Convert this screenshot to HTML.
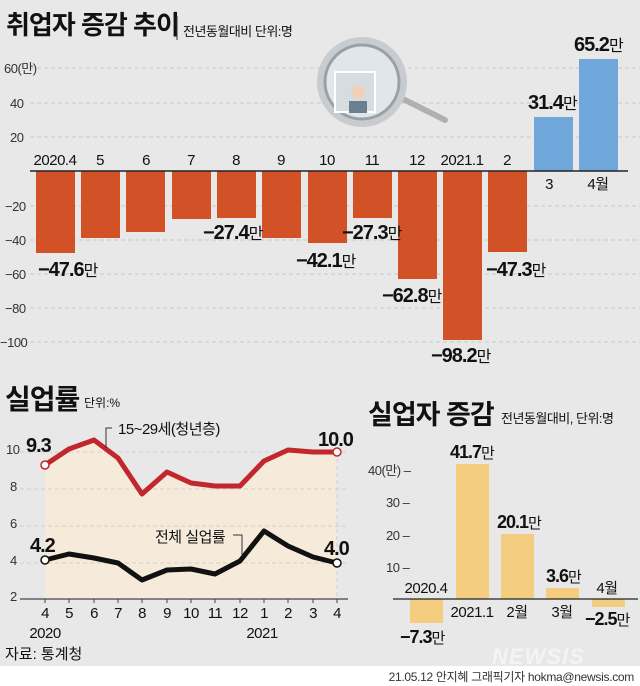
<!DOCTYPE html>
<html><head><meta charset="utf-8"><style>
html,body{margin:0;padding:0;background:#e8e8e8}
svg{display:block}
text{font-family:"Liberation Sans","Noto Sans CJK KR",sans-serif;fill:#111}
.b{font-weight:bold;letter-spacing:-1px}
.t{font-size:13px;fill:#333;letter-spacing:-0.5px}
</style></head><body>
<svg width="640" height="686" viewBox="0 0 640 686" xmlns="http://www.w3.org/2000/svg">
<rect width="640" height="686" fill="#e8e8e8"/>
<text x="6" y="34" font-size="26" font-weight="bold" letter-spacing="-1">취업자 증감 추이</text>
<line x1="177" y1="16" x2="177" y2="40" stroke="#333" stroke-width="1"/>
<text x="183" y="36" font-size="13" letter-spacing="-0.5">전년동월대비 단위:명</text>
<g stroke="#c8c8c8" stroke-dasharray="4,3" stroke-width="1">
<line x1="30" y1="68" x2="640" y2="68"/><line x1="30" y1="103" x2="640" y2="103"/><line x1="30" y1="137" x2="640" y2="137"/>
<line x1="30" y1="206" x2="640" y2="206"/><line x1="30" y1="240" x2="640" y2="240"/><line x1="30" y1="274" x2="640" y2="274"/><line x1="30" y1="308" x2="640" y2="308"/><line x1="30" y1="342" x2="640" y2="342"/>
</g>
<g class="t">
<text x="4" y="73" class="t">60(만)</text><text x="10" y="108" class="t">40</text><text x="10" y="142" class="t">20</text>
<text x="5" y="211" class="t">−20</text><text x="5" y="245" class="t">−40</text><text x="5" y="279" class="t">−60</text><text x="5" y="313" class="t">−80</text><text x="0" y="347" class="t">−100</text>
</g>
<line x1="395" y1="95" x2="445" y2="120" stroke="#b0b0b0" stroke-width="6" stroke-linecap="round"/>
<circle cx="362" cy="82" r="45" fill="#c8ccd0"/>
<circle cx="362" cy="82" r="37" fill="#dfe7ea" stroke="#9aa0a4" stroke-width="3"/>
<rect x="335" y="72" width="40" height="40" fill="#d6dde0" stroke="#fff" stroke-width="2"/>
<circle cx="358" cy="92" r="7" fill="#f0d0b8"/>
<rect x="349" y="101" width="18" height="12" fill="#6a7f90"/>
<g fill="#d35127">
<rect x="36" y="171" width="39" height="82"/>
<rect x="81" y="171" width="39" height="67"/>
<rect x="126" y="171" width="39" height="61"/>
<rect x="172" y="171" width="39" height="48"/>
<rect x="217" y="171" width="39" height="47"/>
<rect x="262" y="171" width="39" height="67"/>
<rect x="308" y="171" width="39" height="72"/>
<rect x="353" y="171" width="39" height="47"/>
<rect x="398" y="171" width="39" height="108"/>
<rect x="443" y="171" width="39" height="169"/>
<rect x="488" y="171" width="39" height="81"/>
</g>
<g fill="#6fa7da">
<rect x="534" y="117" width="39" height="54"/>
<rect x="579" y="59" width="39" height="112"/>
</g>
<line x1="30" y1="171" x2="628" y2="171" stroke="#222" stroke-width="1.5"/>
<g font-size="15" text-anchor="middle" letter-spacing="-0.5">
<text x="55" y="165">2020.4</text><text x="100" y="165">5</text><text x="146" y="165">6</text><text x="191" y="165">7</text><text x="236" y="165">8</text><text x="281" y="165">9</text><text x="327" y="165">10</text><text x="372" y="165">11</text><text x="417" y="165">12</text><text x="462" y="165">2021.1</text><text x="507" y="165">2</text>
<text x="549" y="189">3</text><text x="598" y="189">4월</text>
</g>
<g font-size="20" class="b">
<text x="38" y="276">−47.6<tspan font-size="16" font-weight="normal">만</tspan></text>
<text x="203" y="239">−27.4<tspan font-size="16" font-weight="normal">만</tspan></text>
<text x="296" y="267">−42.1<tspan font-size="16" font-weight="normal">만</tspan></text>
<text x="342" y="239">−27.3<tspan font-size="16" font-weight="normal">만</tspan></text>
<text x="382" y="302">−62.8<tspan font-size="16" font-weight="normal">만</tspan></text>
<text x="431" y="362">−98.2<tspan font-size="16" font-weight="normal">만</tspan></text>
<text x="486" y="276">−47.3<tspan font-size="16" font-weight="normal">만</tspan></text>
<text x="528" y="109">31.4<tspan font-size="16" font-weight="normal">만</tspan></text>
<text x="574" y="51">65.2<tspan font-size="16" font-weight="normal">만</tspan></text>
</g>
<text x="5" y="409" font-size="28" font-weight="bold" letter-spacing="-1">실업률</text>
<text x="84" y="407" font-size="12">단위:%</text>
<polygon fill="#f6ebdb" points="45,465 69,449 94,440 118,458 142,494 167,472 191,483 215,486 240,486 264,461 288,450 313,452 337,452 337,599 45,599"/>
<g stroke="#cfcfcf" stroke-dasharray="4,3"><line x1="20" y1="452" x2="348" y2="452"/><line x1="20" y1="489" x2="348" y2="489"/><line x1="20" y1="526" x2="348" y2="526"/><line x1="20" y1="563" x2="348" y2="563"/>
<line x1="337" y1="452" x2="337" y2="599"/></g>
<line x1="20" y1="599" x2="348" y2="599" stroke="#444" stroke-width="1.2"/>
<g stroke="#444"><line x1="45" y1="599" x2="45" y2="603"/><line x1="69" y1="599" x2="69" y2="603"/><line x1="94" y1="599" x2="94" y2="603"/><line x1="118" y1="599" x2="118" y2="603"/><line x1="142" y1="599" x2="142" y2="603"/><line x1="167" y1="599" x2="167" y2="603"/><line x1="191" y1="599" x2="191" y2="603"/><line x1="215" y1="599" x2="215" y2="603"/><line x1="240" y1="599" x2="240" y2="603"/><line x1="264" y1="599" x2="264" y2="603"/><line x1="288" y1="599" x2="288" y2="603"/><line x1="313" y1="599" x2="313" y2="603"/><line x1="337" y1="599" x2="337" y2="603"/></g>
<g class="t"><text x="6" y="454" class="t">10</text><text x="10" y="491" class="t">8</text><text x="10" y="528" class="t">6</text><text x="10" y="565" class="t">4</text><text x="10" y="601" class="t">2</text></g>
<polyline fill="none" stroke="#c1272d" stroke-width="5" stroke-linejoin="round" points="45,465 69,449 94,440 118,458 142,494 167,472 191,483 215,486 240,486 264,461 288,450 313,452 337,452"/>
<polyline fill="none" stroke="#111" stroke-width="5" stroke-linejoin="round" points="45,560 69,554 94,558 118,563 142,580 167,570 191,569 215,574 240,561 264,531 288,546 313,557 337,563"/>
<g fill="#fff" stroke-width="1.5"><circle cx="45" cy="465" r="4" stroke="#c1272d"/><circle cx="337" cy="452" r="4" stroke="#c1272d"/><circle cx="45" cy="560" r="4" stroke="#111"/><circle cx="337" cy="563" r="4" stroke="#111"/></g>
<polyline fill="none" stroke="#333" points="106,448 106,428 112,428"/>
<text x="118" y="434" font-size="15" letter-spacing="-0.5">15~29세(청년층)</text>
<polyline fill="none" stroke="#333" points="233,535 242,535 242,556"/>
<text x="155" y="542" font-size="15" letter-spacing="-0.5">전체 실업률</text>
<g font-size="20" class="b"><text x="26" y="452">9.3</text><text x="318" y="446">10.0</text><text x="30" y="552">4.2</text><text x="324" y="555">4.0</text></g>
<g font-size="15" text-anchor="middle" letter-spacing="-0.5"><text x="45" y="618">4</text><text x="69" y="618">5</text><text x="94" y="618">6</text><text x="118" y="618">7</text><text x="142" y="618">8</text><text x="167" y="618">9</text><text x="191" y="618">10</text><text x="215" y="618">11</text><text x="240" y="618">12</text><text x="264" y="618">1</text><text x="288" y="618">2</text><text x="313" y="618">3</text><text x="337" y="618">4</text>
<text x="45" y="638">2020</text><text x="262" y="638">2021</text></g>
<text x="5" y="659" font-size="15">자료: 통계청</text>
<text x="368" y="424" font-size="27" font-weight="bold" letter-spacing="-1">실업자 증감</text>
<text x="501" y="423" font-size="13" letter-spacing="-0.5">전년동월대비, 단위:명</text>
<g class="t"><text x="368" y="475" class="t">40(만) –</text><text x="386" y="507" class="t">30 –</text><text x="386" y="540" class="t">20 –</text><text x="386" y="572" class="t">10 –</text></g>
<g fill="#f5cd80"><rect x="410" y="599" width="33" height="24"/><rect x="456" y="464" width="33" height="135"/><rect x="501" y="534" width="33" height="65"/><rect x="546" y="588" width="33" height="11"/><rect x="592" y="599" width="33" height="8"/></g>
<line x1="393" y1="599" x2="638" y2="599" stroke="#222" stroke-width="1.2"/>
<g font-size="15" text-anchor="middle" letter-spacing="-0.5"><text x="426" y="593">2020.4</text><text x="472" y="617">2021.1</text><text x="517" y="617">2월</text><text x="562" y="617">3월</text><text x="607" y="593">4월</text></g>
<g font-size="18" class="b"><text x="400" y="643">−7.3<tspan font-size="15" font-weight="normal">만</tspan></text><text x="450" y="458">41.7<tspan font-size="15" font-weight="normal">만</tspan></text><text x="497" y="528">20.1<tspan font-size="15" font-weight="normal">만</tspan></text><text x="546" y="582">3.6<tspan font-size="15" font-weight="normal">만</tspan></text><text x="585" y="625">−2.5<tspan font-size="15" font-weight="normal">만</tspan></text></g>
<text x="492" y="664" font-size="22" font-weight="bold" font-style="italic" style="fill:#f4f4f4" letter-spacing="1">NEWSIS</text>
<rect x="0" y="666" width="640" height="20" fill="#fff"/>
<text x="634" y="681" font-size="12" text-anchor="end" style="fill:#333" letter-spacing="-0.3">21.05.12 안지혜 그래픽기자 hokma@newsis.com</text>
</svg>
</body></html>
